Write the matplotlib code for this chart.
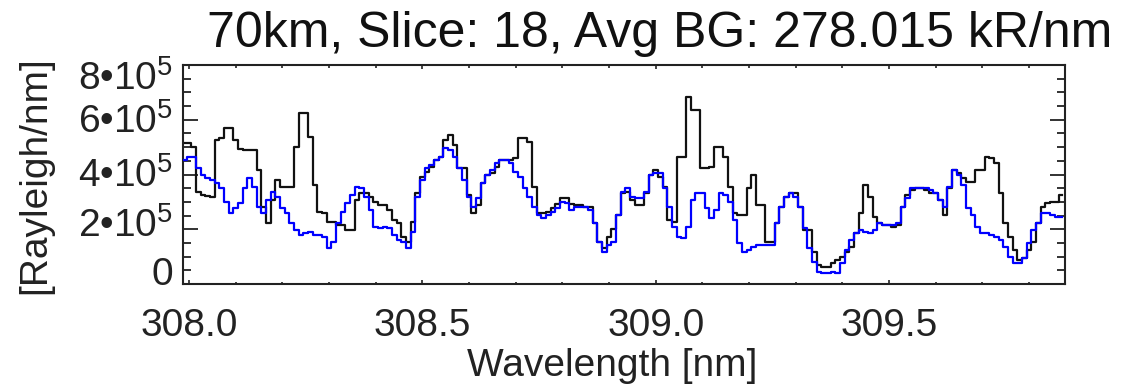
import numpy as np
import matplotlib
matplotlib.use("Agg")
import matplotlib.pyplot as plt
from matplotlib.ticker import MultipleLocator
from matplotlib import transforms

plt.rcParams['font.family'] = ['Liberation Sans', 'DejaVu Sans']
plt.rcParams['mathtext.fontset'] = 'custom'
plt.rcParams['mathtext.rm'] = 'Liberation Sans'
plt.rcParams['mathtext.it'] = 'Liberation Sans'
plt.rcParams['mathtext.bf'] = 'Liberation Sans'

# ---------------- data ----------------
title = "70km, Slice: 18, Avg BG: 278.015 kR/nm"
xlabel = "Wavelength [nm]"
ylabel = "[Rayleigh/nm]"

wl_start = 307.99   # nm, first bin centre
wl_step = 0.01      # nm, bin width

# observed spectrum (units of 1e5 Rayleigh/nm)
observed = [
    5.14, 5.14, 4.99, 3.37, 3.25, 3.21, 3.19, 5.26, 5.32, 5.69,
    5.69, 5.26, 4.92, 4.90, 4.90, 4.90, 4.16, 2.83, 2.22, 3.07,
    3.80, 3.55, 3.55, 3.55, 5.02, 6.23, 6.23, 5.38, 3.62, 2.64,
    2.58, 2.27, 2.27, 2.15, 2.15, 1.97, 1.97, 3.07, 3.31, 3.31,
    3.19, 3.01, 2.89, 2.89, 2.70, 2.35, 2.22, 1.73, 1.55, 2.27,
    3.31, 3.92, 4.10, 4.29, 4.53, 4.65, 5.26, 5.44, 5.08, 4.22,
    4.22, 3.25, 2.58, 2.88, 3.68, 3.98, 4.04, 4.29, 4.53, 4.53,
    4.53, 4.59, 5.32, 5.32, 5.20, 3.55, 2.58, 2.58, 2.64, 2.76,
    2.94, 3.13, 3.13, 2.94, 2.88, 2.88, 2.82, 2.82, 2.22, 1.55,
    1.30, 1.73, 2.00, 2.52, 3.31, 3.37, 3.07, 2.88, 2.88, 3.31,
    3.98, 4.16, 3.92, 3.55, 2.34, 2.27, 4.65, 4.65, 6.84, 6.36,
    6.36, 4.22, 4.22, 4.29, 5.02, 5.02, 4.65, 3.55, 2.58, 2.52,
    2.52, 3.49, 3.98, 2.88, 2.88, 1.55, 1.55, 2.22, 2.82, 3.19,
    3.31, 3.31, 2.82, 1.97, 1.97, 1.18, 0.69, 0.63, 0.63, 0.75,
    0.87, 0.99, 1.18, 1.36, 1.85, 2.58, 3.62, 3.19, 2.46, 2.22,
    2.15, 2.15, 2.09, 2.15, 2.82, 3.25, 3.43, 3.49, 3.49, 3.43,
    3.31, 3.31, 3.07, 2.52, 3.49, 4.16, 4.04, 3.86, 3.74, 3.74,
    4.16, 4.16, 4.65, 4.59, 4.41, 3.31, 2.22, 1.73, 1.24, 0.87,
    0.94, 1.24, 1.55, 2.22, 2.83, 2.95, 3.01, 3.01, 3.25,
]

# background / model spectrum (units of 1e5 Rayleigh/nm)
background = [
    4.53, 4.65, 4.65, 4.22, 3.98, 3.86, 3.80, 3.68, 3.49, 3.01,
    2.58, 2.76, 2.95, 3.49, 3.86, 3.55, 2.83, 2.58, 3.07, 3.37,
    3.19, 2.76, 2.58, 2.22, 1.97, 1.79, 1.85, 1.91, 1.79, 1.79,
    1.73, 1.30, 1.55, 2.22, 2.64, 2.95, 3.25, 3.55, 3.49, 3.19,
    2.70, 2.09, 2.03, 2.09, 2.03, 1.80, 1.61, 1.55, 1.30, 1.91,
    3.19, 3.80, 4.22, 4.35, 4.53, 4.65, 4.95, 4.90, 4.65, 4.22,
    3.80, 3.19, 2.83, 3.13, 3.68, 3.98, 4.16, 4.41, 4.53, 4.53,
    4.41, 4.10, 3.92, 3.49, 3.19, 2.83, 2.52, 2.40, 2.52, 2.64,
    2.76, 3.01, 2.95, 2.70, 2.82, 2.82, 2.82, 2.70, 2.22, 1.55,
    1.18, 1.42, 1.55, 2.52, 3.37, 3.49, 3.19, 3.13, 3.13, 3.37,
    3.98, 4.04, 4.04, 3.49, 2.82, 2.09, 1.73, 1.67, 2.09, 3.07,
    3.31, 3.31, 2.76, 2.40, 2.70, 3.31, 3.25, 3.01, 2.34, 1.48,
    1.18, 1.24, 1.36, 1.42, 1.42, 1.42, 1.42, 2.22, 2.82, 3.19,
    3.31, 3.19, 2.82, 2.03, 1.30, 0.82, 0.45, 0.39, 0.39, 0.45,
    0.39, 0.75, 1.24, 1.61, 1.85, 1.97, 1.91, 1.85, 1.97, 2.22,
    2.15, 2.15, 2.15, 2.22, 2.83, 3.13, 3.49, 3.49, 3.49, 3.49,
    3.43, 3.31, 3.07, 2.83, 3.55, 4.16, 3.98, 3.62, 2.76, 2.52,
    2.09, 1.85, 1.85, 1.79, 1.73, 1.61, 1.36, 1.00, 0.75, 0.75,
    0.94, 1.48, 1.97, 2.22, 2.58, 2.58, 2.52, 2.46, 2.46,
]

xticks = [308.0, 308.5, 309.0, 309.5]
xtick_labels = ["308.0", "308.5", "309.0", "309.5"]
yticks = [0, 2e5, 4e5, 6e5, 8e5]
ytick_labels = ["0", "2\u202210$^{5}$", "4\u202210$^{5}$", "6\u202210$^{5}$", "8\u202210$^{5}$"]

# ---------------- layout ----------------
W, H = 1134, 389
fig = plt.figure(figsize=(W / 100, H / 100), dpi=100)
ax_l, ax_r, ax_t, ax_b = 183, 1065, 65, 284
ax = fig.add_axes([ax_l / W, 1 - ax_b / H, (ax_r - ax_l) / W, (ax_b - ax_t) / H])

wl = wl_start + wl_step * np.arange(len(observed))
ax.plot(wl, np.array(observed) * 1e5, drawstyle='steps-mid', color='#111111', lw=1.6, zorder=2)
ax.plot(wl, np.array(background) * 1e5, drawstyle='steps-mid', color='#0000ff', lw=1.6, zorder=3)

ax.set_xlim(307.987, 309.877)
ax.set_ylim(0, 8e5)
ax.set_xticks(xticks)
ax.xaxis.set_minor_locator(MultipleLocator(0.1))
ax.set_yticks(yticks)
ax.yaxis.set_minor_locator(MultipleLocator(0.5e5))
ax.tick_params(which='both', direction='in', top=True, right=True,
               labelbottom=False, labelleft=False, colors='#222222')
ax.tick_params(axis='x', which='major', length=3, width=1.2)
ax.tick_params(axis='x', which='minor', length=1.8, width=1.2)
ax.tick_params(axis='y', which='major', length=11, width=1.3)
ax.tick_params(axis='y', which='minor', length=5.5, width=1.3)
for s in ax.spines.values():
    s.set_linewidth(1.5)
    s.set_color('#222222')

fs_tick = 28
# x tick labels (centred on ticks)
xt = transforms.blended_transform_factory(ax.transData, fig.transFigure)
for v, lab in zip(xticks, xtick_labels):
    ax.text(v, 1 - 336 / H, lab, transform=xt, ha='center', va='baseline',
            fontsize=fs_tick, color='#222222', clip_on=False)

# y tick labels (baselines in pixels as drawn in the original)
y_baselines = [285, 237, 187, 133, 90]
for lab, yb in zip(ytick_labels, y_baselines):
    fig.text(173 / W, 1 - yb / H, lab, ha='right', va='baseline',
             fontsize=fs_tick, color='#222222')

fig.text(35 / W, 1 - 175 / H, ylabel, rotation=90, ha='center', va='center',
         fontsize=28, color='#222222')
fig.text(612 / W, 1 - 376 / H, xlabel, ha='center', va='baseline',
         fontsize=28, color='#222222')
fig.text(660 / W, 1 - 47 / H, title, ha='center', va='baseline',
         fontsize=36, color='#111111')

fig.savefig("out.png", dpi=100)
